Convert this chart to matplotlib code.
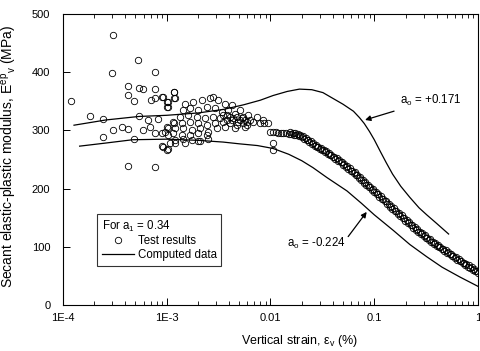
import numpy as np
import matplotlib
matplotlib.use("Agg")
import matplotlib.pyplot as plt

plt.rcParams['font.family'] = ['Liberation Sans', 'DejaVu Sans']
plt.rcParams['mathtext.fontset'] = 'custom'
plt.rcParams['mathtext.rm'] = 'Liberation Sans'
plt.rcParams['mathtext.it'] = 'Liberation Sans:italic'

# Test results: scattered small-strain points
scatter_strain = [
    1.19e-4, 3.01e-4, 3.00e-4, 5.3e-4, 7.8e-4, 4.2e-4, 4.2e-4, 4.8e-4, 5.4e-4, 5.95e-4,
    7.8e-4, 7.1e-4, 7.8e-4, 9.06e-4, 1.02e-3, 1.02e-3, 1.18e-3, 1.18e-3, 1.81e-4, 2.42e-4,
    5.4e-4, 3.05e-4, 3.68e-4, 4.2e-4, 2.42e-4, 5.95e-4, 6.64e-4, 6.9e-4, 8.3e-4, 7.7e-4,
    9.06e-4, 1.02e-3, 1.03e-3, 9.06e-4, 1.03e-3, 1.2e-3, 1.18e-3, 4.2e-4, 7.8e-4, 4.8e-4,
]
scatter_modulus = [
    350, 464, 398, 421, 401, 377, 361, 350, 373, 371,
    372, 352, 356, 358, 349, 341, 366, 356, 325, 319,
    324, 300, 306, 302, 288, 301, 318, 306, 319, 296,
    295, 304, 293, 273, 268, 278, 312, 239, 238, 286,
]

# Test results: dense cluster between 1E-3 and 0.01
cluster_strain = [
    1.17e-3, 1.20e-3, 9.14e-4, 1.01e-3, 1.01e-3, 9.14e-4, 1.01e-3,
    1.50e-3, 1.80e-3, 2.17e-3, 2.61e-3, 2.81e-3, 3.14e-3, 3.65e-3, 4.23e-3, 5.08e-3, 6.11e-3, 7.36e-3, 8.53e-3, 9.53e-3,
    1.45e-3, 1.67e-3, 2.01e-3, 2.43e-3, 2.92e-3, 3.38e-3, 3.93e-3, 4.55e-3, 5.47e-3, 6.35e-3, 7.93e-3,
    1.34e-3, 1.61e-3, 1.94e-3, 2.34e-3, 2.81e-3, 3.26e-3, 3.78e-3, 4.39e-3, 5.08e-3, 5.89e-3, 6.84e-3,
    1.16e-3, 1.39e-3, 1.67e-3, 2.01e-3, 2.43e-3, 2.92e-3, 3.51e-3, 4.07e-3, 4.72e-3, 5.68e-3,
    9.98e-4, 1.20e-3, 1.45e-3, 1.74e-3, 2.09e-3, 2.52e-3, 3.03e-3, 3.65e-3, 4.55e-3,
    9.62e-4, 1.16e-3, 1.39e-3, 1.67e-3, 2.01e-3, 2.43e-3,
    1.20e-3, 1.45e-3, 1.74e-3, 2.09e-3, 2.52e-3,
    1.07e-3, 1.50e-3, 2.01e-3,
    3.51e-3, 4.07e-3, 4.72e-3, 5.27e-3, 5.68e-3, 4.90e-3, 5.47e-3, 5.89e-3, 4.23e-3, 3.78e-3,
    8.59e-3, 0.0106, 0.0106,
]
cluster_modulus = [
    366, 356, 358, 349, 341, 272, 266,
    346, 349, 352, 355, 358, 352, 346, 344, 335, 326, 323, 318, 312,
    335, 338, 335, 341, 338, 332, 335, 329, 323, 318, 312,
    323, 326, 323, 321, 323, 321, 326, 321, 318, 315, 315,
    315, 312, 315, 312, 309, 312, 315, 312, 309, 306,
    306, 304, 304, 301, 304, 298, 304, 306, 304,
    298, 295, 292, 292, 295, 292,
    283, 286, 283, 281, 286,
    278, 278, 281,
    326, 323, 323, 321, 318, 315, 312, 309, 318, 318,
    312, 278, 266,
]

# Test results: continuous band from 0.01 to 1 (lower row)
band_strain = [
    0.01000, 0.01059, 0.01122, 0.01189, 0.01259, 0.01334, 0.01413, 0.01496, 0.01585, 0.01679,
    0.01778, 0.01884, 0.01995, 0.02113, 0.02239, 0.02371, 0.02512, 0.02661, 0.02818, 0.02985,
    0.03162, 0.03350, 0.03548, 0.03758, 0.03981, 0.04217, 0.04467, 0.04732, 0.05012, 0.05309,
    0.05623, 0.05957, 0.06310, 0.06683, 0.07079, 0.07499, 0.07943, 0.08414, 0.08913, 0.09441,
    0.1000, 0.1059, 0.1122, 0.1189, 0.1259, 0.1334, 0.1413, 0.1496, 0.1585, 0.1679,
    0.1778, 0.1884, 0.1995, 0.2113, 0.2239, 0.2371, 0.2512, 0.2661, 0.2818, 0.2985,
    0.3162, 0.3350, 0.3548, 0.3758, 0.3981, 0.4217, 0.4467, 0.4732, 0.5012, 0.5309,
    0.5623, 0.5957, 0.6310, 0.6683, 0.7079, 0.7499, 0.7943, 0.8414, 0.8913, 0.9441, 1.0,
]
band_modulus = [
    298, 297, 297, 296, 296, 295, 295, 294, 294, 293,
    292, 290, 288, 286, 283, 280, 277, 274, 271, 268,
    266, 263, 260, 257, 254, 251, 248, 245, 241, 238,
    234, 230, 227, 223, 219, 215, 210, 206, 202, 198,
    194, 190, 186, 182, 178, 174, 169, 165, 161, 157,
    153, 149, 145, 141, 137, 133, 129, 125, 122, 119,
    115, 112, 108, 105, 102, 99, 96, 93, 90, 87,
    84, 81, 78, 75, 72, 69, 66, 64, 61, 58, 55,
]

# Test results: continuous band (upper row, interleaved)
band2_strain = [
    0.01540, 0.01630, 0.01728, 0.01830, 0.01939, 0.02054, 0.02175, 0.02304, 0.02441, 0.02585,
    0.02738, 0.02901, 0.03073, 0.03255, 0.03447, 0.03652, 0.03868, 0.04097, 0.04340, 0.04597,
    0.04870, 0.05158, 0.05464, 0.05788, 0.06131, 0.06494, 0.06879, 0.07286, 0.07718, 0.08175,
    0.08660, 0.09173, 0.09716,
    0.1029, 0.1090, 0.1155, 0.1223, 0.1296, 0.1372, 0.1454, 0.1540, 0.1630, 0.1728,
    0.1830, 0.1939, 0.2054, 0.2175, 0.2304, 0.2441, 0.2585, 0.2738, 0.2901, 0.3073,
    0.3255, 0.3447, 0.3652, 0.3868, 0.4097, 0.4340, 0.4597, 0.4870, 0.5158, 0.5464,
    0.5788, 0.6131, 0.6494, 0.6879, 0.7286, 0.7718, 0.8175, 0.8660, 0.9173, 0.9716,
]
band2_modulus = [
    297, 296, 295, 294, 292, 290, 287, 284, 281, 278,
    275, 272, 270, 267, 264, 261, 258, 255, 252, 249,
    246, 242, 239, 235, 231, 228, 224, 220, 215, 211,
    207, 203, 199,
    195, 191, 187, 183, 179, 174, 170, 166, 162, 158,
    154, 150, 146, 142, 138, 134, 130, 126, 123, 120,
    116, 113, 109, 106, 103, 100, 97, 94, 91, 88,
    85, 82, 79, 76, 73, 70, 68, 65, 62, 59,
]

# Computed data, a0 = +0.171
upper_strain = [1.28e-4, 2.6e-4, 5.4e-4, 1.0e-3, 2.0e-3, 3.5e-3, 5.5e-3, 0.008, 0.0106, 0.0145,
                0.019, 0.025, 0.032, 0.04, 0.05, 0.063, 0.072, 0.08, 0.09, 0.1,
                0.115, 0.13, 0.15, 0.18, 0.22, 0.27, 0.32, 0.4, 0.52]
upper_modulus = [309, 318, 324, 326, 330, 336, 344, 352, 360, 367,
                 371, 370, 365, 355, 345, 333, 322, 312, 298, 284,
                 263, 245, 225, 204, 185, 167, 155, 140, 122]

# Computed data, a0 = -0.224
lower_strain = [1.45e-4, 2.5e-4, 4.7e-4, 1.0e-3, 2.0e-3, 3.5e-3, 5e-3, 7.5e-3, 0.0106, 0.015,
                0.02, 0.0257, 0.035, 0.0546, 0.075, 0.1, 0.153, 0.22, 0.32, 0.45, 0.67, 1.0]
lower_modulus = [273, 278, 284, 285, 283, 280, 277, 274, 269, 259,
                 248, 236, 219, 196, 175, 155, 128, 104, 83, 65, 48, 32]

xticks = [1e-4, 1e-3, 1e-2, 1e-1, 1]
xtick_labels = ['1E-4', '1E-3', '0.01', '0.1', '1']

fig = plt.figure(figsize=(4.8, 3.51), dpi=100)
ax = fig.add_axes([0.131, 0.131, 0.865, 0.829])

mk = dict(marker='o', ms=4.6, mfc='none', mec='black', mew=0.6, ls='none')
ax.plot(scatter_strain, scatter_modulus, **mk)
ax.plot(cluster_strain, cluster_modulus, **mk)
ax.plot(band2_strain, band2_modulus, **mk)
ax.plot(band_strain, band_modulus, **mk, label='Test results')
ax.plot(upper_strain, upper_modulus, color='black', lw=0.9, label='Computed data')
ax.plot(lower_strain, lower_modulus, color='black', lw=0.9)

ax.set_xscale('log')
ax.set_xlim(1e-4, 1)
ax.set_ylim(0, 500)
ax.set_xticks(xticks)
ax.set_xticklabels(xtick_labels)
ax.set_yticks([0, 100, 200, 300, 400, 500])
ax.tick_params(axis='x', which='both', direction='in', top=True, bottom=True, labelsize=8, pad=6)
ax.tick_params(axis='x', which='major', length=5, width=0.7)
ax.tick_params(axis='x', which='minor', length=3, width=0.6)
ax.tick_params(axis='y', which='both', direction='in', left=True, right=False, labelsize=8,
               length=5, width=0.7, pad=9)
ax.minorticks_on()
ax.yaxis.set_minor_locator(matplotlib.ticker.NullLocator())
for s in ax.spines.values():
    s.set_linewidth(0.8)

ax.set_xlabel(r'Vertical strain, ε$_{\rm v}$ (%)', fontsize=9, labelpad=6)
ax.xaxis.set_label_coords(0.571, -0.095)
ax.set_ylabel(r'Secant elastic-plastic modulus, E$^{\rm ep}{}_{\rm v}$ (MPa)', fontsize=10, labelpad=4)
ax.yaxis.set_label_coords(-0.106, 0.51)

ax.annotate(r'a$_{\rm o}$ = +0.171', xy=(0.0815, 318), xytext=(0.175, 352),
            fontsize=8.3, va='center', ha='left',
            arrowprops=dict(arrowstyle='-|>', color='black', lw=0.9, shrinkA=2, shrinkB=0,
                            mutation_scale=8))
ax.annotate(r'a$_{\rm o}$ = -0.224', xy=(0.0845, 160), xytext=(0.0143, 106),
            fontsize=8.3, va='center', ha='left',
            arrowprops=dict(arrowstyle='-|>', color='black', lw=0.9, shrinkA=0, shrinkB=0,
                            mutation_scale=8, relpos=(1.0, 0.7)))

leg = ax.legend(title=r'For a$_{\rm 1}$ = 0.34', loc='lower left', bbox_to_anchor=(0.083, 0.135),
                borderaxespad=0, fontsize=8.3, title_fontsize=8.3, alignment='left',
                frameon=True, fancybox=False, edgecolor='black', handlelength=2.8,
                handletextpad=0.3, borderpad=0.4, labelspacing=0.15)
leg.get_frame().set_linewidth(0.8)

fig.savefig('out.png', dpi=100)
